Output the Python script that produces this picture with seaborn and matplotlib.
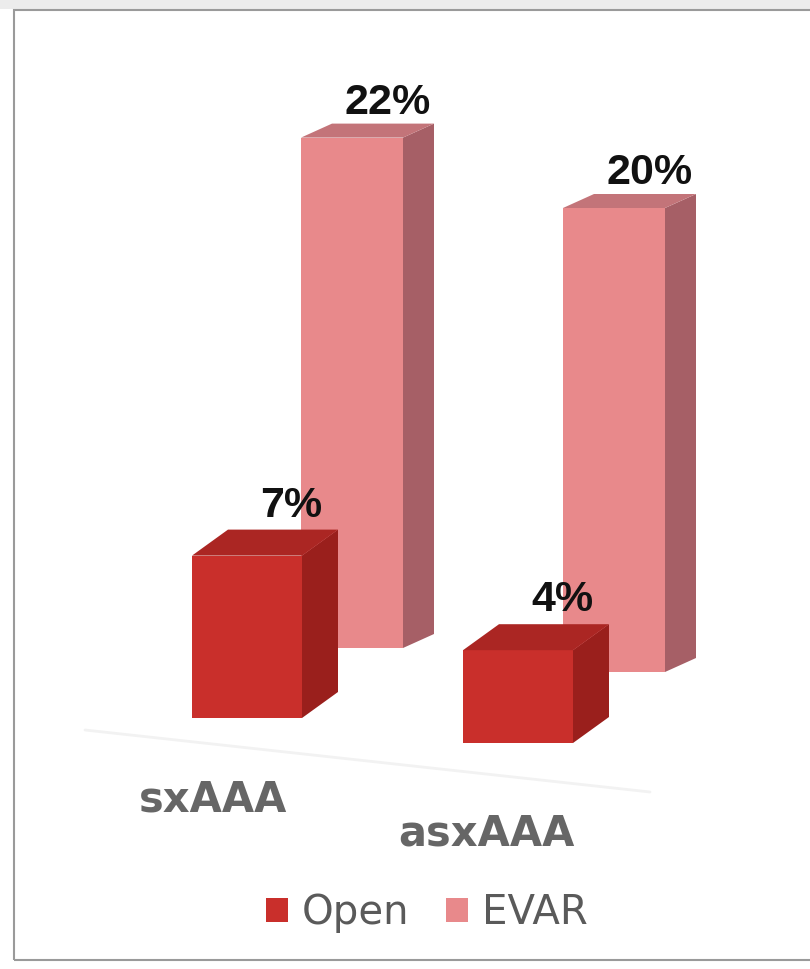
import numpy as np
import pandas as pd
import matplotlib
matplotlib.use("Agg")
import matplotlib.pyplot as plt
import seaborn as sns
from matplotlib.patches import Polygon, Rectangle, Patch
from matplotlib.lines import Line2D

# ---- data -------------------------------------------------------------
categories = ["sxAAA", "asxAAA"]
series = ["Open", "EVAR"]
open_values = [7, 4]
evar_values = [22, 20]

# ---- styling / layout -------------------------------------------------
W, H = 810, 969
PX = 23.2          # pixels per percentage point
GROUND_ROW = 718   # pixel row where the front-left bar stands

def row_to_y(row):
    return (GROUND_ROW - row) / PX

colors = {
    "Open": {"front": "#C92F2B", "side": "#9A1F1C", "top": "#AB2623"},
    "EVAR": {"front": "#E8898B", "side": "#A65F66", "top": "#C37479"},
}
# bar centres (x in pixels), bar widths, floor rows of each bar
bar_pos = {"Open": [247, 518], "EVAR": [352, 614]}
bar_width = {"Open": 110, "EVAR": 102}
base_rows = {"Open": [718, 743], "EVAR": [648, 672]}
depth = {"Open": (36, 26), "EVAR": (31, 14)}       # (dx, dy) in pixels
label_off = {"Open": (44, 50), "EVAR": (36, 35)}   # value label offsets in pixels
cat_label_xy = [(213, 799), (486, 834)]

sns.set_theme(style="white")
plt.rcParams["font.family"] = ["DejaVu Sans"]

fig = plt.figure(figsize=(W / 100, H / 100), dpi=100)
fig.patch.set_facecolor("white")
ax = fig.add_axes([0, 0, 1, 1])
ax.set_xlim(0, W)
ax.set_ylim(row_to_y(H), row_to_y(0))
ax.set_axis_off()

# faint floor edge
ax.add_line(Line2D([85, 650], [row_to_y(730), row_to_y(792)], color="#f2f2f2", lw=2, zorder=0))

values = {"Open": open_values, "EVAR": evar_values}
zorders = {"EVAR": 2, "Open": 4}

# back row (EVAR) first, then front row (Open)
for s in ["EVAR", "Open"]:
    df = pd.DataFrame({"pos": bar_pos[s], "value": values[s], "category": categories})
    n_before = len(ax.patches)
    rel_w = bar_width[s] / np.diff(sorted(bar_pos[s])).min()
    sns.barplot(data=df, x="pos", y="value", native_scale=True, width=rel_w,
                color=colors[s]["front"], saturation=1, errorbar=None,
                linewidth=0, ax=ax, zorder=zorders[s])
    new = ax.patches[n_before:]
    dxp, dyp = depth[s]
    dy = dyp / PX
    for p in new:
        cx = p.get_x() + p.get_width() / 2
        i = int(np.argmin([abs(cx - q) for q in bar_pos[s]]))
        base = row_to_y(base_rows[s][i])
        p.set_y(base)
        x0, w, h = p.get_x(), p.get_width(), p.get_height()
        y0, y1 = base, base + h
        top = Polygon([(x0, y1), (x0 + w, y1), (x0 + w + dxp, y1 + dy), (x0 + dxp, y1 + dy)],
                      closed=True, facecolor=colors[s]["top"], edgecolor="none",
                      zorder=zorders[s])
        side = Polygon([(x0 + w, y0), (x0 + w + dxp, y0 + dy), (x0 + w + dxp, y1 + dy), (x0 + w, y1)],
                       closed=True, facecolor=colors[s]["side"], edgecolor="none",
                       zorder=zorders[s])
        ax.add_patch(side)
        ax.add_patch(top)
        lx, ly = label_off[s]
        ax.text(cx + lx, y1 + ly / PX, f"{values[s][i]}%", ha="center", va="center",
                fontsize=31, fontweight="bold", color="#111111",
                family=["Liberation Sans", "DejaVu Sans"], zorder=6)

ax.set_xlim(0, W)
ax.set_ylim(row_to_y(H), row_to_y(0))
ax.set_axis_off()

# category labels
for cat, (cx, cy) in zip(categories, cat_label_xy):
    ax.text(cx, row_to_y(cy), cat, ha="center", va="center", fontsize=30,
            fontweight="bold", color="#666666", zorder=6)

# legend
handles = [Patch(facecolor=colors[s]["front"], edgecolor="none") for s in series]
leg = ax.legend(handles, series, loc="center", bbox_to_anchor=(427 / W, 1 - 913 / H),
                ncol=2, frameon=False, fontsize=29, handlelength=0.55, handleheight=0.55,
                handletextpad=0.35, columnspacing=0.9, borderpad=0)
for t in leg.get_texts():
    t.set_color("#5a5a5a")

# chart frame
fig.patches.append(Rectangle((0, 1 - 9 / H), 1, 9 / H, transform=fig.transFigure,
                             facecolor="#ececec", edgecolor="none", zorder=0))
fig.patches.append(Rectangle((14 / W, 1 - 960 / H), 1.0, (960 - 10) / H,
                             transform=fig.transFigure, facecolor="none",
                             edgecolor="#9a9a9a", linewidth=1.5, zorder=10))

fig.savefig("out.png", dpi=100, facecolor="white")
